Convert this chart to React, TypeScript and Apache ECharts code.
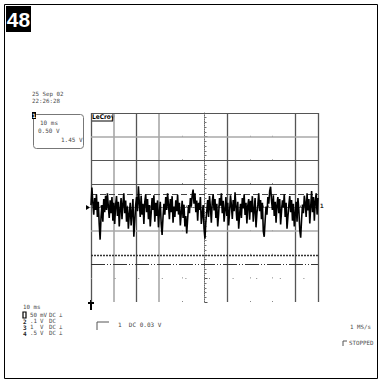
import React, { useEffect, useRef } from "react";
import * as echarts from "echarts";

// Time axis in ms (10 ms/div, 10 divisions), voltage axis in V (0.5 V/div, 8 divisions)
const timeMin = -50;
const timeMax = 50;
const voltMin = -2;
const voltMax = 2;

// Noisy channel-1 trace (V)
const traceVolts = [
  0.05, 0.42, 0.10, -0.15, 0.20, -0.05, 0.28, -0.20, 0.12, -0.35, -0.68, -0.20, 0.05, -0.30, 0.18, -0.10, 0.25, -0.05, 0.30, 0.02, -0.22, 0.15, -0.12, 0.22, -0.28,
  0.10, -0.35, 0.05, 0.24, -0.18, 0.12, -0.40, -0.05, 0.20, -0.25, 0.08, 0.30, -0.12, 0.15, -0.30, 0.02, -0.45, -0.15, 0.10, -0.38, -0.10, 0.18, -0.62, -0.30, 0.05,
  0.22, -0.08, 0.45, 0.10, -0.20, 0.25, -0.15, 0.08, -0.35, 0.12, 0.28, -0.10, 0.18, -0.25, 0.05, -0.40, -0.12, 0.20, -0.05, 0.26, -0.30, 0.10, -0.18, 0.15, -0.42,
  -0.10, 0.12, -0.35, -0.58, -0.20, 0.08, -0.15, 0.22, -0.05, 0.30, 0.05, -0.25, 0.18, -0.10, 0.24, -0.32, 0.02, -0.20, 0.15, -0.08, 0.27, -0.15, 0.10, -0.38, -0.12,
  0.14, -0.22, 0.06, -0.40, -0.18, -0.55, -0.25, 0.05, -0.12, 0.20, 0.02, 0.25, 0.38, 0.08, 0.30, -0.10, 0.15, -0.28, 0.10, -0.05, 0.22, -0.35, -0.15, 0.05, -0.45,
  -0.66, -0.30, -0.08, 0.16, -0.20, 0.24, 0.00, -0.32, 0.12, 0.28, -0.06, 0.18, -0.22, 0.08, -0.40, -0.14, 0.20, 0.04, 0.30, -0.12, 0.14, -0.30, -0.05, 0.22, -0.18,
  0.10, -0.38, -0.10, 0.26, 0.05, -0.24, 0.16, -0.08, 0.32, 0.02, -0.28, 0.12, -0.45, -0.15, 0.08, -0.22, 0.20, -0.02, 0.28, -0.16, 0.10, -0.34, 0.04, 0.18, -0.26,
  0.14, -0.10, 0.24, -0.30, -0.05, 0.20, -0.42, -0.12, 0.06, 0.30, -0.08, 0.16, -0.25, 0.10, -0.50, -0.62, -0.28, 0.02, -0.15, 0.22, 0.08, 0.35, 0.44, 0.15, -0.05,
  0.26, -0.18, 0.12, -0.32, 0.06, 0.22, -0.12, 0.18, -0.36, -0.08, 0.15, 0.00, 0.28, -0.20, 0.10, -0.45, -0.20, 0.05, 0.24, -0.10, 0.16, -0.28, 0.08, -0.40, -0.15,
  0.12, -0.30, 0.20, -0.05, -0.48, -0.64, -0.25, 0.06, -0.12, 0.25, 0.10, -0.20, 0.30, -0.06, 0.18, -0.34, 0.02, 0.35, -0.10, 0.22, -0.28, 0.14, 0.30, -0.15, 0.20,
];

// Graticule lines (ms / V)
const darkVLines = [-50, -30, 10, 40, 50];
const grayVLines = [-40, -20];
const dotVLines = [-10, 20, 30];
const darkHLines = [2.0, 1.0, 0.5];
const grayHLines = [1.5, -0.5];
const denseDotHLines = [-1.0];
const sparseDotHLines = [-1.5];
const dashCursor = [0.29];
const dashDotCursor = [-1.2];

// Screen texts
const dateLines = ["25 Sep 02", "22:26:28"];
const boxLines = ["10 ms", "0.50 V", "1.45 V"];
const timebaseText = "10 ms";
const channelIds = ["", "2", "3", "4"];
const channelScales = ["50", ".1", "1", ".5"];
const channelUnits = ["mV", "V", "V", "V"];
const channelCoupling = ["DC", "DC", "DC", "DC"];
const channelGround = ["\u22A5", "", "\u22A5", "\u22A5"];
const triggerText = "1  DC 0.03 V";
const sampleRate = "1 MS/s";
const statusText = "STOPPED";
const figureNumber = "48";

const FONT = "'DejaVu Sans Mono', 'Liberation Mono', monospace";

export default function App() {
  const ref = useRef<HTMLDivElement>(null);
  useEffect(() => {
    if (!ref.current) return;
    const chart = echarts.init(ref.current, null, { renderer: "svg" });
    const n = traceVolts.length;
    const trace = traceVolts.map((v, i) => [timeMin + (i * (timeMax - timeMin)) / (n - 1), v]);

    const vLine = (arr: number[], style: any) => arr.map((x) => ({ xAxis: x, lineStyle: style }));
    const hLine = (arr: number[], style: any) => arr.map((y) => ({ yAxis: y, lineStyle: style }));

    const gridMarks = [
      ...vLine(grayVLines, { color: "#a8a8a8", width: 1.6, type: "solid" }),
      ...vLine(darkVLines, { color: "#555", width: 1.3, type: "solid" }),
      ...vLine(dotVLines, { color: "#888", width: 1, type: [1, 22.6] }),
      ...hLine(grayHLines, { color: "#a8a8a8", width: 1.6, type: "solid" }),
      ...hLine(darkHLines, { color: "#555", width: 1.2, type: "solid" }),
      ...hLine(denseDotHLines, { color: "#333", width: 1.3, type: [2, 1] }),
      ...hLine(sparseDotHLines, { color: "#888", width: 1, type: [1, 22.6] }),
      ...hLine(dashCursor, { color: "#444", width: 1, type: [6, 3] }),
      ...hLine(dashDotCursor, { color: "#333", width: 1.2, type: [14, 2, 1, 2, 1, 2] }),
    ];

    const txt = (text: string, x: number, y: number, size = 6, fill = "#4a4a4a", extra: any = {}) => ({
      type: "text", x, y,
      style: { text, fill, font: `${size}px ${FONT}`, verticalAlign: "middle", ...extra },
    });

    const g: any[] = [];
    // page frame
    g.push({ type: "rect", shape: { x: 4.5, y: 4.5, width: 373, height: 374 }, style: { fill: "none", stroke: "#000", lineWidth: 1 } });
    // figure number
    g.push({ type: "rect", shape: { x: 6, y: 6, width: 25, height: 26 }, style: { fill: "#000" } });
    g.push({
      type: "text", x: 18.5, y: 19.5,
      style: { text: figureNumber, fill: "#fff", font: "bold 21px 'Liberation Sans Narrow', 'Liberation Sans', sans-serif", align: "center", verticalAlign: "middle" },
    });
    // date/time
    dateLines.forEach((t, i) => g.push(txt(t, 32, 94 + i * 6.5, 5.8)));
    // channel box
    g.push({ type: "rect", shape: { x: 33.5, y: 114.5, width: 50, height: 34, r: 3 }, style: { fill: "none", stroke: "#777", lineWidth: 1 } });
    g.push({ type: "rect", shape: { x: 32, y: 112, width: 4, height: 7 }, style: { fill: "#000" } });
    g.push({ type: "text", x: 34, y: 115.5, style: { text: "1", fill: "#fff", font: `bold 6px ${FONT}`, align: "center", verticalAlign: "middle" } });
    const boxPos = [[40, 122], [38, 130.5], [61, 139.5]];
    boxLines.forEach((t, i) => g.push(txt(t, boxPos[i][0], boxPos[i][1])));
    // LeCroy tag
    g.push({ type: "text", x: 92, y: 117, style: { text: "LeCroy", fill: "#000", font: "bold 6.5px 'DejaVu Sans Condensed', 'DejaVu Sans', sans-serif", verticalAlign: "middle" } });
    g.push({ type: "line", shape: { x1: 92, y1: 121, x2: 113, y2: 121 }, style: { stroke: "#000", lineWidth: 1 } });
    g.push({ type: "line", shape: { x1: 113, y1: 113, x2: 113, y2: 121 }, style: { stroke: "#000", lineWidth: 1 } });
    // trace ground marker and right marker
    g.push({ type: "polygon", shape: { points: [[86, 205], [90, 207.5], [86, 210]] }, style: { fill: "#000" } });
    g.push(txt("1", 320, 205, 6, "#222", { font: `bold 6px ${FONT}` }));
    // trigger position marker
    g.push({ type: "line", shape: { x1: 91, y1: 300, x2: 91, y2: 310 }, style: { stroke: "#000", lineWidth: 2 } });
    g.push({ type: "rect", shape: { x: 88, y: 302, width: 6, height: 2 }, style: { fill: "#000" } });
    // timebase and channel list
    g.push(txt(timebaseText, 23, 307, 5.8));
    g.push({ type: "rect", shape: { x: 23, y: 312, width: 3, height: 6 }, style: { fill: "none", stroke: "#000", lineWidth: 1.2 } });
    channelScales.forEach((s, i) => {
      const y = 315 + i * 6;
      if (channelIds[i]) g.push(txt(channelIds[i], 23, y, 6, "#222", { font: `bold 6px ${FONT}` }));
      g.push(txt(s, 30, y, 5.8));
      g.push(txt(channelUnits[i], 40, y, 5.8));
      g.push(txt(channelCoupling[i], 49, y, 5.8));
      if (channelGround[i]) g.push(txt(channelGround[i], 59, y, 5.8));
    });
    // trigger
    g.push({ type: "polyline", shape: { points: [[97, 330], [97, 322], [109, 322]] }, style: { stroke: "#555", lineWidth: 1, fill: "none" } });
    g.push(txt(triggerText, 118, 324.5, 6, "#444"));
    // sample rate and status
    g.push(txt(sampleRate, 350, 327, 5.8));
    g.push({ type: "polyline", shape: { points: [[343, 346], [343, 341], [347, 341]] }, style: { stroke: "#555", lineWidth: 1, fill: "none" } });
    g.push(txt(statusText, 349, 343, 5.8));

    chart.setOption({
      animation: false,
      backgroundColor: "#fff",
      grid: { left: 91, top: 113, width: 227, height: 189, show: false },
      xAxis: {
        type: "value", min: timeMin, max: timeMax, interval: 10,
        axisLine: { show: true, onZero: true, lineStyle: { color: "#666", type: "dotted", width: 1 } },
        axisTick: { show: true, inside: true, length: 3, lineStyle: { color: "#555" } },
        minorTick: { show: true, splitNumber: 5, length: 2, lineStyle: { color: "#777" } },
        axisLabel: { show: false },
        splitLine: { show: false },
      },
      yAxis: {
        type: "value", min: voltMin, max: voltMax, interval: 0.5,
        axisLine: { show: true, onZero: true, lineStyle: { color: "#666", type: "dotted", width: 1 } },
        axisTick: { show: true, inside: true, length: 3, lineStyle: { color: "#555" } },
        minorTick: { show: true, splitNumber: 5, length: 2, lineStyle: { color: "#777" } },
        axisLabel: { show: false },
        splitLine: { show: false },
      },
      graphic: g,
      series: [
        {
          type: "line",
          data: [],
          silent: true,
          markLine: { silent: true, symbol: "none", label: { show: false }, data: gridMarks, animation: false },
        },
        {
          type: "line",
          data: trace,
          showSymbol: false,
          silent: true,
          lineStyle: { color: "#000", width: 1.6 },
          z: 5,
        },
      ],
    });
    return () => chart.dispose();
  }, []);
  return <div ref={ref} style={{ position: "fixed", left: 0, top: 0, width: 382, height: 383 }} />;
}
